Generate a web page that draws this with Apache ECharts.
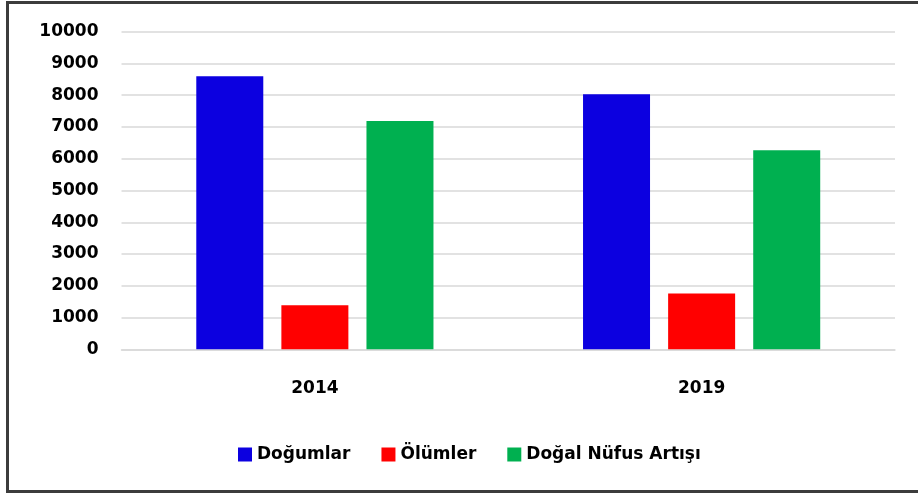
<!DOCTYPE html>
<html>
<head>
<meta charset="utf-8">
<script src="https://cdn.jsdelivr.net/npm/echarts@6/dist/echarts.min.js"></script>
<style>
  html, body { margin: 0; padding: 0; background: #fff; overflow: hidden; }
  #chart { width: 918px; height: 496px; }
</style>
</head>
<body>
<div id="chart"></div>
<script>
// kategoriler ve seriler
const years = ["2014", "2019"];
const dogumlar = [8600, 8030];
const olumler = [1390, 1760];
const dogalArtis = [7190, 6270];
const seriesNames = ["Doğumlar", "Ölümler", "Doğal Nüfus Artışı"];
const colors = ["#0c00e0", "#ff0000", "#00b050"];

const font = "DejaVu Sans";
const chart = echarts.init(document.getElementById("chart"));

const option = {
  animation: false,
  color: colors,
  textStyle: { fontFamily: font },
  grid: { left: 121.5, right: 23, top: 31.7, bottom: 146.7 },
  // çerçeve: sol, üst, alt (sağ kenar resimde kesik)
  graphic: [
    {
      type: "polyline",
      silent: true,
      shape: { points: [[940, 2.5], [7.5, 2.5], [7.5, 491.5], [940, 491.5]] },
      style: { stroke: "#3c3c3c", lineWidth: 3, fill: null },
    },
  ],
  legend: {
    left: 233,
    top: 441,
    icon: "rect",
    itemWidth: 14,
    itemHeight: 14,
    itemGap: 31,
    textStyle: { fontFamily: font, fontWeight: "bold", fontSize: 17, color: "#000" },
    data: seriesNames,
  },
  xAxis: {
    type: "category",
    data: years,
    axisLine: { lineStyle: { color: "#d9d9d9", width: 1.5 } },
    axisTick: { show: false },
    axisLabel: { fontFamily: font, fontWeight: "bold", fontSize: 17, color: "#000", margin: 31 },
  },
  yAxis: {
    type: "value",
    min: 0,
    max: 10000,
    interval: 1000,
    axisLine: { show: false },
    axisTick: { show: false },
    splitLine: { lineStyle: { color: "#d9d9d9", width: 1.5 } },
    axisLabel: {
      fontFamily: font, fontWeight: "bold", fontSize: 17, color: "#000", margin: 23,
      formatter: (v) => String(v),
    },
  },
  series: [
    { name: seriesNames[0], type: "bar", data: dogumlar, barWidth: 67, barGap: "27%" },
    { name: seriesNames[1], type: "bar", data: olumler, barWidth: 67, barGap: "27%" },
    { name: seriesNames[2], type: "bar", data: dogalArtis, barWidth: 67, barGap: "27%" },
  ],
};
chart.setOption(option);
</script>
</body>
</html>
